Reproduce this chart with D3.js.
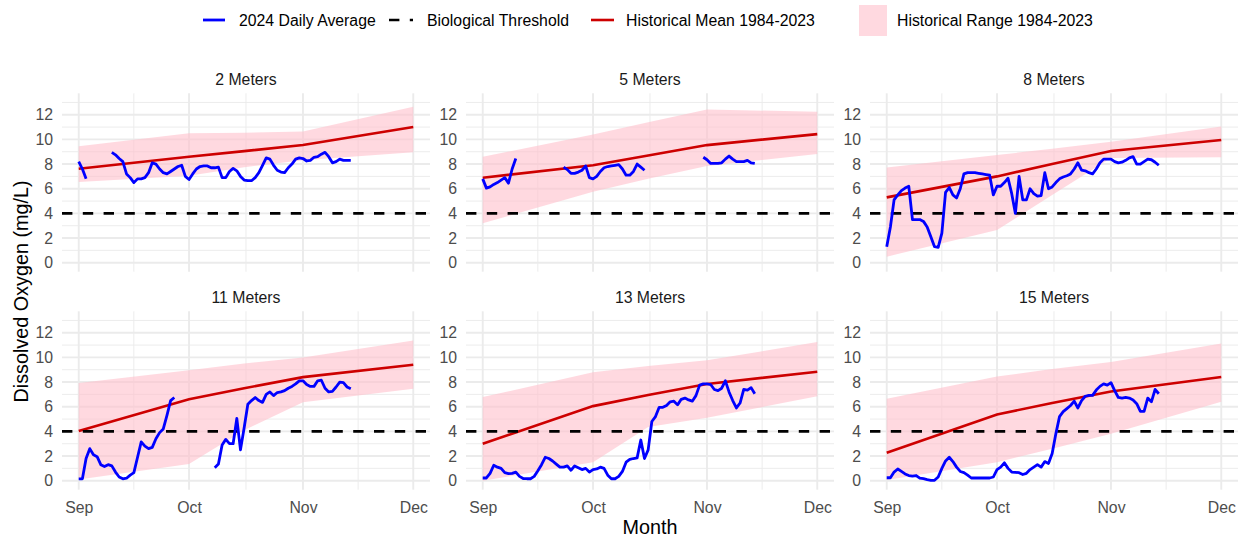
<!DOCTYPE html>
<html>
<head>
<meta charset="utf-8">
<script src="https://cdn.jsdelivr.net/npm/d3@7"></script>
<style>
  body { margin: 0; background: #fff; }
  text { font-family: "Liberation Sans", Arial, sans-serif; }
</style>
</head>
<body>
<svg id="chart" width="1241" height="537"></svg>
<script>
// =====================
// DATA
// =====================
const depths = ["2 Meters", "5 Meters", "8 Meters", "11 Meters", "13 Meters", "15 Meters"];

// 2024 daily averages, one value per day starting Sep 1 (null = no data)
const firstDay = "2024-09-01";

const do2 = [8.2, 7.6, 6.8, null, null, null, null, null, null, 8.95,
  8.75, 8.45, 8.2, 7.2, 6.9, 6.5, 6.8, 6.8, 6.9, 7.3,
  8.1, 8.0, 7.6, 7.3, 7.2, 7.4, 7.6, 7.8, 7.9, 7.0,
  6.75, 7.2, 7.6, 7.8, 7.85, 7.85, 7.7, 7.7, 7.75, 6.9,
  6.9, 7.4, 7.65, 7.45, 7.0, 6.7, 6.65, 6.65, 6.9, 7.3,
  7.9, 8.5, 8.4, 7.9, 7.5, 7.35, 7.3, 7.7, 8.0, 8.4,
  8.5, 8.45, 8.25, 8.3, 8.55, 8.6, 8.8, 8.95, 8.6, 8.1,
  8.2, 8.4, 8.3, 8.3, 8.3];

const do5 = [6.8, 6.05, 6.15, 6.35, 6.5, 6.7, 6.9, 6.45, 7.6, 8.45,
  null, null, null, null, null, null, null, null, null, null,
  null, null, 7.75, 7.55, 7.25, 7.25, 7.35, 7.5, 7.85, 6.9,
  6.8, 7.0, 7.4, 7.7, 7.8, 7.85, 7.9, 7.95, 7.6, 7.1,
  7.1, 7.4, 8.0, 7.75, 7.5, null, null, null, null, null,
  null, null, null, null, null, null, null, null, null, null,
  8.55, 8.35, 8.05, 8.05, 8.05, 8.1, 8.4, 8.65, 8.4, 8.2,
  8.2, 8.2, 8.3, 8.1, 8.05];

const do8 = [1.3, 2.9, 5.1, 5.5, 5.85, 6.05, 6.2, 3.5, 3.5, 3.5,
  3.35, 2.9, 2.1, 1.3, 1.25, 2.4, 5.7, 6.1, 5.5, 5.25,
  6.0, 7.2, 7.3, 7.3, 7.3, 7.25, 7.2, 7.15, 7.1, 5.5,
  6.2, 6.2, 6.5, 6.85, 5.6, 4.0, 7.0, 5.1, 5.1, 6.0,
  5.6, 5.4, 5.45, 7.3, 6.0, 6.15, 6.5, 6.8, 6.95, 7.05,
  7.2, 7.6, 8.1, 7.5, 7.45, 7.3, 7.2, 7.6, 8.1, 8.4,
  8.4, 8.4, 8.2, 8.1, 8.15, 8.3, 8.5, 8.6, 8.0, 8.0,
  8.2, 8.4, 8.35, 8.15, 7.9];

const do11 = [0.15, 0.15, 1.8, 2.6, 2.1, 1.95, 1.3, 1.15, 1.3, 1.2,
  0.7, 0.3, 0.15, 0.2, 0.45, 0.65, 1.9, 3.15, 2.8, 2.6,
  2.7, 3.4, 3.9, 4.2, 5.3, 6.5, 6.75, null, null, null,
  null, null, null, null, null, null, null, 1.05, 1.35, 2.9,
  3.35, 3.0, 3.0, 5.05, 2.5, 4.3, 6.2, 6.5, 6.75, 6.5,
  6.35, 7.0, 7.2, 6.9, 7.15, 7.2, 7.3, 7.5, 7.65, 7.85,
  8.1, 8.1, 7.8, 7.65, 7.65, 8.1, 8.15, 7.5, 7.2, 7.25,
  7.6, 8.0, 7.95, 7.6, 7.45];

const do13 = [0.22, 0.22, 0.6, 1.25, 1.1, 1.0, 0.65, 0.57, 0.6, 0.7,
  0.35, 0.18, 0.16, 0.16, 0.35, 0.8, 1.3, 1.9, 1.8, 1.6,
  1.35, 1.1, 1.1, 1.2, 0.85, 1.2, 1.05, 0.9, 1.0, 0.7,
  0.9, 0.95, 1.1, 1.0, 0.45, 0.16, 0.16, 0.35, 0.75, 1.5,
  1.73, 1.8, 1.85, 3.3, 1.8, 2.5, 4.8, 5.2, 5.95, 5.95,
  6.1, 6.4, 6.45, 6.15, 6.6, 6.7, 6.55, 6.45, 6.9, 7.75,
  7.85, 7.85, 7.8, 7.4, 7.3, 7.5, 8.1, 7.2, 6.5, 5.9,
  6.3, 7.4, 7.35, 7.55, 7.05];

const do15 = [0.24, 0.24, 0.7, 0.95, 0.75, 0.55, 0.42, 0.38, 0.42, 0.2,
  0.16, 0.08, 0.03, 0.03, 0.3, 1.0, 1.6, 1.9, 1.55, 1.1,
  0.75, 0.65, 0.45, 0.22, 0.22, 0.22, 0.22, 0.22, 0.22, 0.3,
  0.9, 1.1, 1.45, 1.0, 0.7, 0.68, 0.65, 0.5, 0.6, 0.9,
  1.1, 1.3, 1.1, 1.55, 1.4, 2.2, 3.8, 5.2, 5.6, 5.85,
  6.1, 6.45, 5.9, 6.5, 6.85, 6.92, 6.92, 7.35, 7.65, 7.85,
  7.75, 7.95, 7.3, 6.75, 6.7, 6.75, 6.7, 6.55, 6.25, 5.62,
  5.62, 6.7, 6.4, 7.4, 7.05];

const dailyByDepth = [do2, do5, do8, do11, do13, do15];

// historical 1984-2023 summary at these dates
const histDates = ["2024-09-01", "2024-10-01", "2024-10-16", "2024-11-01", "2024-12-01"];

const histMean = [
  [7.62, 8.6, 9.05, 9.55, 11.0],
  [6.89, 7.9, 8.7, 9.54, 10.43],
  [5.3, 7.0, 8.0, 9.06, 9.95],
  [4.03, 6.6, 7.5, 8.4, 9.4],
  [3.0, 6.05, 6.95, 7.84, 8.84],
  [2.27, 5.37, 6.3, 7.24, 8.41]
];

const histLow = [
  [6.54, 7.05, 7.75, 8.3, 8.95],
  [3.19, 5.76, 6.8, 7.84, 8.81],
  [0.49, 2.65, 5.5, 8.5, 8.55],
  [0.1, 1.35, 4.1, 6.37, 7.46],
  [0.0, 1.5, 4.35, 5.11, 6.84],
  [0.05, 1.5, 2.6, 3.81, 6.4]
];

const histHigh = [
  [9.45, 10.5, 10.55, 10.65, 12.65],
  [8.59, 10.4, 11.4, 12.43, 12.24],
  [7.73, 8.73, 9.25, 9.81, 11.05],
  [7.92, 8.95, 9.5, 10.0, 11.38],
  [6.78, 8.8, 9.3, 9.76, 11.24],
  [6.65, 8.45, 9.05, 9.62, 11.12]
];

const threshold = 4;
const yTicks = [0, 2, 4, 6, 8, 10, 12];
const yMinor = [1, 3, 5, 7, 9, 11, 13];
const monthTicks = ["2024-09-01", "2024-10-01", "2024-11-01", "2024-12-01"];

const legendLabels = ["2024 Daily Average", "Biological Threshold", "Historical Mean 1984-2023", "Historical Range 1984-2023"];

// =====================
// SETUP
// =====================
const svg = d3.select("#chart");
const parse = d3.utcParse("%Y-%m-%d");
const DAY = 864e5;

const panelW = 368, panelH = 178.4;
const panelLeft = [62, 466, 870];
const panelTop = [93.3, 311.3];

const monthDates = monthTicks.map(parse);
const x = d3.scaleUtc()
  .domain([new Date(+monthDates[0] - 4.55 * DAY), new Date(+monthDates[3] + 4.55 * DAY)])
  .range([0, panelW]);

const y = d3.scaleLinear()
  .domain([-0.73, 13.74])
  .range([panelH, 0]);

const gridColor = "#EBEBEB";
const start = parse(firstDay);

// =====================
// PANELS
// =====================
depths.forEach((name, i) => {
  const col = i % 3, row = Math.floor(i / 3);
  const g = svg.append("g")
    .attr("transform", `translate(${panelLeft[col]},${panelTop[row]})`);

  // grid
  g.selectAll(".ymin").data(yMinor).join("line")
    .attr("x1", 0).attr("x2", panelW)
    .attr("y1", d => y(d)).attr("y2", d => y(d))
    .attr("stroke", gridColor).attr("stroke-width", 0.95);

  const xMinor = d3.pairs(monthDates).map(([a, b]) => (x(a) + x(b)) / 2);
  g.selectAll(".xmin").data(xMinor).join("line")
    .attr("x1", d => d).attr("x2", d => d)
    .attr("y1", 0).attr("y2", panelH)
    .attr("stroke", gridColor).attr("stroke-width", 0.95);

  g.selectAll(".ymaj").data(yTicks).join("line")
    .attr("x1", 0).attr("x2", panelW)
    .attr("y1", d => y(d)).attr("y2", d => y(d))
    .attr("stroke", gridColor).attr("stroke-width", 1.9);

  g.selectAll(".xmaj").data(monthDates).join("line")
    .attr("x1", d => x(d)).attr("x2", d => x(d))
    .attr("y1", 0).attr("y2", panelH)
    .attr("stroke", gridColor).attr("stroke-width", 1.9);

  // historical range + mean
  const hist = histDates.map((d, k) => ({
    date: parse(d),
    mean: histMean[i][k],
    lo: histLow[i][k],
    hi: histHigh[i][k]
  }));

  g.append("path")
    .datum(hist)
    .attr("fill", "#FFC0CB")
    .attr("fill-opacity", 0.6)
    .attr("d", d3.area()
      .x(d => x(d.date))
      .y0(d => y(d.lo))
      .y1(d => y(d.hi)));

  g.append("path")
    .datum(hist)
    .attr("fill", "none")
    .attr("stroke", "#CD0000")
    .attr("stroke-width", 2.6)
    .attr("d", d3.line()
      .x(d => x(d.date))
      .y(d => y(d.mean)));

  // threshold
  g.append("line")
    .attr("x1", 0).attr("x2", panelW)
    .attr("y1", y(threshold)).attr("y2", y(threshold))
    .attr("stroke", "#000")
    .attr("stroke-width", 2.6)
    .attr("stroke-dasharray", "10.4,10.4");

  // 2024 daily
  const daily = dailyByDepth[i].map((v, k) => ({
    date: new Date(+start + k * DAY),
    v
  }));

  g.append("path")
    .datum(daily)
    .attr("fill", "none")
    .attr("stroke", "#0000FF")
    .attr("stroke-width", 2.8)
    .attr("stroke-linejoin", "round")
    .attr("d", d3.line()
      .defined(d => d.v != null)
      .x(d => x(d.date))
      .y(d => y(d.v)));

  // strip title
  g.append("text")
    .attr("x", panelW / 2)
    .attr("y", -14)
    .attr("dy", "0.35em")
    .attr("text-anchor", "middle")
    .style("font-size", "15.8px")
    .style("fill", "#1A1A1A")
    .text(name);

  // y axis
  const yAx = g.append("g")
    .call(d3.axisLeft(y).tickValues(yTicks).tickSize(0).tickPadding(9));
  yAx.select(".domain").remove();
  yAx.selectAll("text")
    .style("font-size", "15.8px")
    .style("font-family", '"Liberation Sans", Arial, sans-serif')
    .style("fill", "#4D4D4D");

  // x axis on bottom row
  if (row === 1) {
    const xAx = g.append("g")
      .attr("transform", `translate(0,${panelH})`)
      .call(d3.axisBottom(x).tickValues(monthDates)
        .tickFormat(d3.utcFormat("%b")).tickSize(0).tickPadding(12));
    xAx.select(".domain").remove();
    xAx.selectAll("text")
      .style("font-size", "15.8px")
      .style("font-family", '"Liberation Sans", Arial, sans-serif')
      .style("fill", "#4D4D4D");
  }
});

// =====================
// AXIS TITLES
// =====================
svg.append("text")
  .attr("x", 650)
  .attr("y", 534)
  .attr("text-anchor", "middle")
  .style("font-size", "19.8px")
  .style("fill", "#000")
  .text("Month");

svg.append("text")
  .attr("transform", "translate(28,291.5) rotate(-90)")
  .attr("text-anchor", "middle")
  .style("font-size", "19.8px")
  .style("fill", "#000")
  .text("Dissolved Oxygen (mg/L)");

// =====================
// LEGEND
// =====================
const legY = 20;
const legend = svg.append("g");

legend.append("line")
  .attr("x1", 203).attr("x2", 225).attr("y1", legY).attr("y2", legY)
  .attr("stroke", "#0000FF").attr("stroke-width", 2.8);

legend.append("line")
  .attr("x1", 389).attr("x2", 413).attr("y1", legY).attr("y2", legY)
  .attr("stroke", "#000").attr("stroke-width", 2.6)
  .attr("stroke-dasharray", "10.4,10.4");

legend.append("line")
  .attr("x1", 591).attr("x2", 614).attr("y1", legY).attr("y2", legY)
  .attr("stroke", "#CD0000").attr("stroke-width", 2.6);

legend.append("rect")
  .attr("x", 859).attr("y", 5).attr("width", 28).attr("height", 31)
  .attr("fill", "#FFC0CB").attr("fill-opacity", 0.6);

const textX = [239, 427, 626, 897];
legend.selectAll(".leg-text")
  .data(legendLabels)
  .join("text")
  .attr("x", (d, k) => textX[k])
  .attr("y", legY)
  .attr("dy", "0.35em")
  .style("font-size", "15.8px")
  .style("fill", "#000")
  .text(d => d);
</script>
</body>
</html>
